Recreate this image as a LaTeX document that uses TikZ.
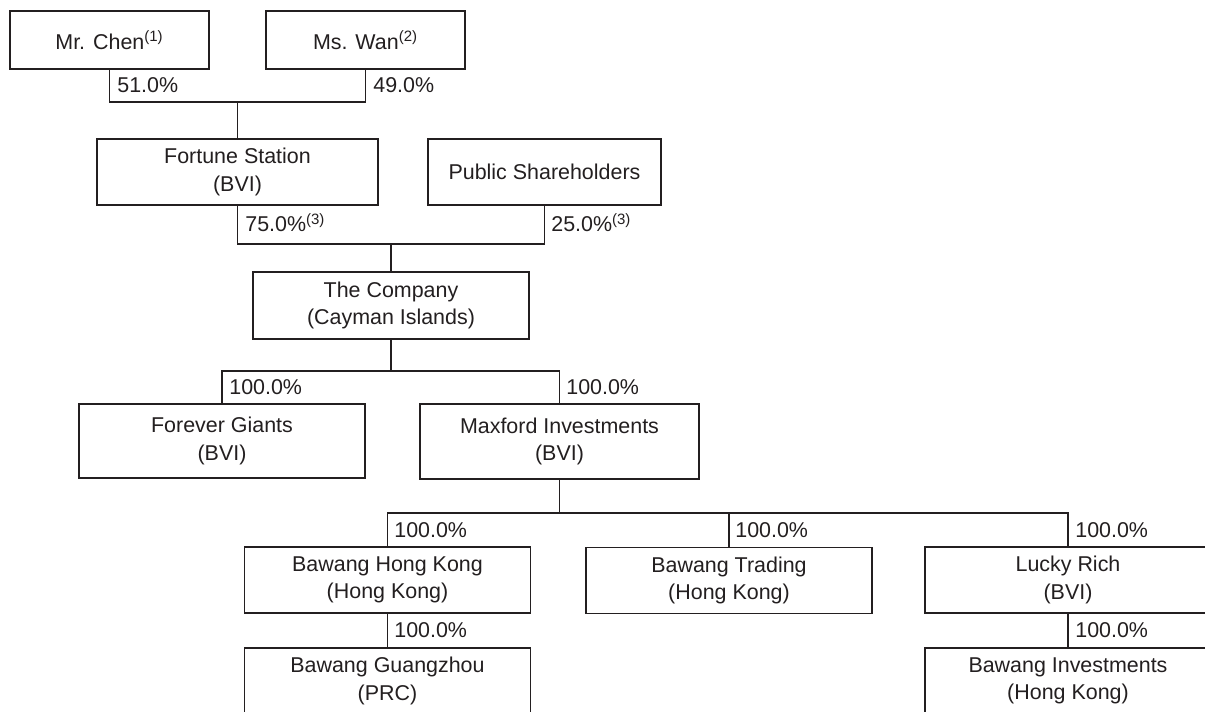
\documentclass[tikz,border=0pt]{standalone}
\usepackage{fontspec}
\setmainfont{Liberation Sans}
\usetikzlibrary{positioning}
\definecolor{ink}{RGB}{35,31,32}
\tikzset{
    entity/.style={
        rectangle, draw=ink, line width=1pt,
        minimum width=5.72cm, minimum height=1.32cm,
        inner sep=0pt, align=center, text=ink,
        fill=white, font=\fontsize{12.2}{15.7}\selectfont
    },
    owner/.style={entity, minimum width=3.98cm, minimum height=1.16cm},
    link/.style={draw=ink, line width=1pt},
    pct/.style={anchor=base west, inner sep=0pt, text=ink,
        font=\fontsize{12.2}{15.7}\selectfont}
}

\begin{document}
\begin{tikzpicture}[x=0.02cm, y=-0.02cm]
\useasboundingbox (0,0) rectangle (1205,712);
\clip (0,0) rectangle (1205,712);

% Shareholders
\node[owner] (chen) at (109.5,40) {Mr. Chen\textsuperscript{(1)}};
\node[owner] (wan) at (365.5,40) {Ms. Wan\textsuperscript{(2)}};

% Holding level
\node[entity, minimum width=5.62cm] (fortune) at (237.5,172) {Fortune Station\\(BVI)};
\node[entity, minimum width=4.66cm] (public) at (544.5,172) {Public Shareholders};

% Listed company
\node[entity, minimum width=5.52cm, minimum height=1.34cm] (company) at (391,305.5) {The Company\\(Cayman Islands)};

% First tier subsidiaries
\node[entity, minimum height=1.48cm] (forever) at (222,441) {Forever Giants\\(BVI)};
\node[entity, minimum width=5.58cm, minimum height=1.5cm] (maxford) at (559.5,441.5) {Maxford Investments\\(BVI)};

% Second tier subsidiaries
\node[entity] (bhk) at (387.5,580) {Bawang Hong Kong\\(Hong Kong)};
\node[entity] (trading) at (729,580.5) {Bawang Trading\\(Hong Kong)};
\node[entity] (lucky) at (1068,580) {Lucky Rich\\(BVI)};

% Third tier subsidiaries
\node[entity] (guangzhou) at (387.5,681) {Bawang Guangzhou\\(PRC)};
\node[entity] (investments) at (1068,681) {Bawang Investments\\(Hong Kong)};

% Connections
\coordinate (j1) at (237.5,102);
\draw[link] (chen.south) |- (j1) -| (wan.south);
\draw[link] (j1) -- (fortune.north);

\coordinate (j2) at (391,244);
\draw[link] (fortune.south) |- (j2) -| (public.south);
\draw[link] (j2) -- (company.north);

\coordinate (j3) at (391,371);
\draw[link] (company.south) -- (j3);
\draw[link] (forever.north) |- (j3) -| (maxford.north);

\coordinate (j4) at (559.5,513);
\draw[link] (maxford.south) -- (j4);
\draw[link] (bhk.north) |- (j4) -| (lucky.north);
\draw[link] (trading.north) -- (trading.north |- j4);
\draw[link] (bhk.south) -- (guangzhou.north);
\draw[link] (lucky.south) -- (investments.north);

% Shareholding percentages
\node[pct] (pchen) at (117,93) {51.0\%};
\node[pct] (pwan) at (373,93) {49.0\%};
\node[pct] (pfortune) at (245,232) {75.0\%\textsuperscript{(3)}};
\node[pct] (ppublic) at (551,232) {25.0\%\textsuperscript{(3)}};
\node[pct] (pforever) at (229,395) {100.0\%};
\node[pct] (pmaxford) at (566,395) {100.0\%};
\node[pct] (pbhk) at (394,537.5) {100.0\%};
\node[pct] (ptrading) at (735,537.5) {100.0\%};
\node[pct] (plucky) at (1075,537.5) {100.0\%};
\node[pct] (pguangzhou) at (394,638) {100.0\%};
\node[pct] (pinvest) at (1075,638) {100.0\%};

\end{tikzpicture}
\end{document}
